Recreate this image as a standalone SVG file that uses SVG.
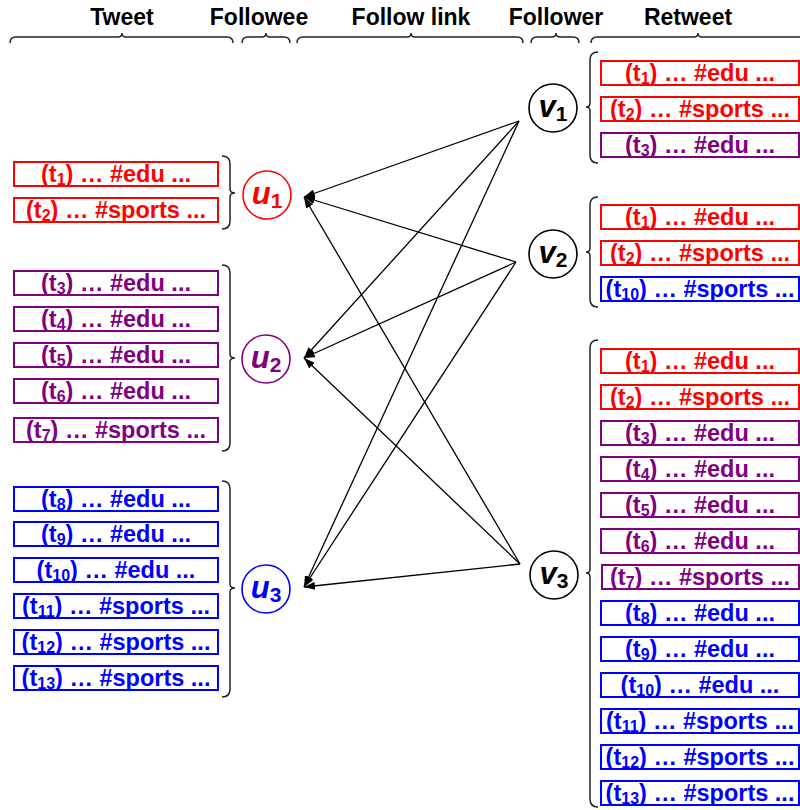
<svg xmlns="http://www.w3.org/2000/svg" width="800" height="810" viewBox="0 0 800 810">
<style>
text{font-family:"Liberation Sans",Arial,sans-serif;font-weight:bold}
.hd{font-size:23px;fill:#000;text-anchor:middle}
.tw{font-size:23.5px;text-anchor:middle}
.sb{font-size:16px}
.box{fill:#fff;stroke-width:2}
.R rect{stroke:#f00}.R text{fill:#f00}
.P rect{stroke:#800080}.P text{fill:#800080}
.B rect{stroke:#00f}.B text{fill:#00f}
.node{fill:#fff;stroke-width:1.6}
.nl{font-size:31px;font-style:italic;text-anchor:middle}
.ns{font-size:21px;font-style:normal}
.brace{fill:none;stroke:#222;stroke-width:1.5}
.edge{stroke:#000;stroke-width:1.3;fill:none;marker-end:url(#ah)}
</style>
<defs>
<marker id="ah" markerUnits="userSpaceOnUse" markerWidth="12" markerHeight="8" refX="11" refY="4" orient="auto">
<path d="M0,0 L11,4 L0,8 z" fill="#000"/>
</marker>
</defs>
<rect width="800" height="810" fill="#fff"/>
<g id="headers">
<text class="hd" x="122" y="25">Tweet</text>
<text class="hd" x="259" y="25">Followee</text>
<text class="hd" x="411" y="25">Follow link</text>
<text class="hd" x="556" y="25">Follower</text>
<text class="hd" x="688" y="25">Retweet</text>
</g>
<g id="braces">
<path class="brace" d="M10,43 Q10,37 16,37 L118,37 Q122,37 122,33 Q122,37 126,37 L227,37 Q233,37 233,43"/>
<path class="brace" d="M242,43 Q242,37 248,37 L262,37 Q266,37 266,33 Q266,37 270,37 L284,37 Q290,37 290,43"/>
<path class="brace" d="M297,43 Q297,37 303,37 L407,37 Q411,37 411,33 Q411,37 415,37 L517,37 Q523,37 523,43"/>
<path class="brace" d="M531,43 Q531,37 537,37 L552,37 Q556,37 556,33 Q556,37 560,37 L573,37 Q579,37 579,43"/>
<path class="brace" d="M591,43 Q591,37 597,37 L694,37 Q698,37 698,33 Q698,37 702,37 L812,37"/>
<path class="brace" d="M222,156 Q230,156 230,164 L230,189 Q230,193 235,193 Q230,193 230,197 L230,221 Q230,229 222,229"/>
<path class="brace" d="M222,265 Q230,265 230,273 L230,354 Q230,358 235,358 Q230,358 230,362 L230,443 Q230,451 222,451"/>
<path class="brace" d="M222,481 Q230,481 230,489 L230,584 Q230,588 235,588 Q230,588 230,592 L230,689 Q230,697 222,697"/>
<path class="brace" d="M598,52 Q590,52 590,60 L590,103 Q590,107 586,107 Q590,107 590,111 L590,155 Q590,163 598,163"/>
<path class="brace" d="M598,197 Q590,197 590,205 L590,248 Q590,252 586,252 Q590,252 590,256 L590,299 Q590,307 598,307"/>
<path class="brace" d="M598,340 Q590,340 590,348 L590,569 Q590,573 586,573 Q590,573 590,577 L590,799 Q590,807 598,807"/>
</g>
<g id="tweets-u1" class="R">
<rect class="box" x="14" y="162" width="204" height="24"/><text class="tw" x="116" y="182">(t<tspan class="sb" dy="3">1</tspan><tspan dy="-3">) … #edu ...</tspan></text>
<rect class="box" x="14" y="198" width="204" height="24"/><text class="tw" x="116" y="218">(t<tspan class="sb" dy="3">2</tspan><tspan dy="-3">) … #sports ...</tspan></text>
</g>
<g id="tweets-u2" class="P">
<rect class="box" x="14" y="271" width="204" height="24"/><text class="tw" x="116" y="291">(t<tspan class="sb" dy="3">3</tspan><tspan dy="-3">) … #edu ...</tspan></text>
<rect class="box" x="14" y="307" width="204" height="24"/><text class="tw" x="116" y="327">(t<tspan class="sb" dy="3">4</tspan><tspan dy="-3">) … #edu ...</tspan></text>
<rect class="box" x="14" y="343" width="204" height="24"/><text class="tw" x="116" y="363">(t<tspan class="sb" dy="3">5</tspan><tspan dy="-3">) … #edu ...</tspan></text>
<rect class="box" x="14" y="379" width="204" height="24"/><text class="tw" x="116" y="399">(t<tspan class="sb" dy="3">6</tspan><tspan dy="-3">) … #edu ...</tspan></text>
<rect class="box" x="14" y="418" width="204" height="24"/><text class="tw" x="116" y="438">(t<tspan class="sb" dy="3">7</tspan><tspan dy="-3">) … #sports ...</tspan></text>
</g>
<g id="tweets-u3" class="B">
<rect class="box" x="14" y="487" width="204" height="24"/><text class="tw" x="116" y="507">(t<tspan class="sb" dy="3">8</tspan><tspan dy="-3">) … #edu ...</tspan></text>
<rect class="box" x="14" y="522" width="204" height="24"/><text class="tw" x="116" y="542">(t<tspan class="sb" dy="3">9</tspan><tspan dy="-3">) … #edu ...</tspan></text>
<rect class="box" x="14" y="558" width="204" height="24"/><text class="tw" x="116" y="578">(t<tspan class="sb" dy="3">10</tspan><tspan dy="-3">) … #edu ...</tspan></text>
<rect class="box" x="14" y="594" width="204" height="24"/><text class="tw" x="116" y="614">(t<tspan class="sb" dy="3">11</tspan><tspan dy="-3">) … #sports ...</tspan></text>
<rect class="box" x="14" y="630" width="204" height="24"/><text class="tw" x="116" y="650">(t<tspan class="sb" dy="3">12</tspan><tspan dy="-3">) … #sports ...</tspan></text>
<rect class="box" x="14" y="666" width="204" height="24"/><text class="tw" x="116" y="686">(t<tspan class="sb" dy="3">13</tspan><tspan dy="-3">) … #sports ...</tspan></text>
</g>
<g id="retweets-v1">
<g class="R"><rect class="box" x="601" y="61" width="198" height="24"/><text class="tw" x="700" y="81">(t<tspan class="sb" dy="3">1</tspan><tspan dy="-3">) … #edu ...</tspan></text>
<rect class="box" x="601" y="97" width="198" height="24"/><text class="tw" x="700" y="117">(t<tspan class="sb" dy="3">2</tspan><tspan dy="-3">) … #sports ...</tspan></text></g>
<g class="P"><rect class="box" x="601" y="133" width="198" height="24"/><text class="tw" x="700" y="153">(t<tspan class="sb" dy="3">3</tspan><tspan dy="-3">) … #edu ...</tspan></text></g>
</g>
<g id="retweets-v2">
<g class="R"><rect class="box" x="601" y="205" width="198" height="24"/><text class="tw" x="700" y="225">(t<tspan class="sb" dy="3">1</tspan><tspan dy="-3">) … #edu ...</tspan></text>
<rect class="box" x="601" y="241" width="198" height="24"/><text class="tw" x="700" y="261">(t<tspan class="sb" dy="3">2</tspan><tspan dy="-3">) … #sports ...</tspan></text></g>
<g class="B"><rect class="box" x="601" y="277" width="198" height="24"/><text class="tw" x="700" y="297">(t<tspan class="sb" dy="3">10</tspan><tspan dy="-3">) … #sports ...</tspan></text></g>
</g>
<g id="retweets-v3">
<g class="R"><rect class="box" x="601" y="349" width="198" height="24"/><text class="tw" x="700" y="369">(t<tspan class="sb" dy="3">1</tspan><tspan dy="-3">) … #edu ...</tspan></text>
<rect class="box" x="601" y="385" width="198" height="24"/><text class="tw" x="700" y="405">(t<tspan class="sb" dy="3">2</tspan><tspan dy="-3">) … #sports ...</tspan></text></g>
<g class="P"><rect class="box" x="601" y="421" width="198" height="24"/><text class="tw" x="700" y="441">(t<tspan class="sb" dy="3">3</tspan><tspan dy="-3">) … #edu ...</tspan></text>
<rect class="box" x="601" y="457" width="198" height="24"/><text class="tw" x="700" y="477">(t<tspan class="sb" dy="3">4</tspan><tspan dy="-3">) … #edu ...</tspan></text>
<rect class="box" x="601" y="493" width="198" height="24"/><text class="tw" x="700" y="513">(t<tspan class="sb" dy="3">5</tspan><tspan dy="-3">) … #edu ...</tspan></text>
<rect class="box" x="601" y="529" width="198" height="24"/><text class="tw" x="700" y="549">(t<tspan class="sb" dy="3">6</tspan><tspan dy="-3">) … #edu ...</tspan></text>
<rect class="box" x="602" y="565" width="197" height="24"/><text class="tw" x="700" y="585">(t<tspan class="sb" dy="3">7</tspan><tspan dy="-3">) … #sports ...</tspan></text></g>
<g class="B"><rect class="box" x="601" y="601" width="198" height="24"/><text class="tw" x="700" y="621">(t<tspan class="sb" dy="3">8</tspan><tspan dy="-3">) … #edu ...</tspan></text>
<rect class="box" x="601" y="637" width="198" height="24"/><text class="tw" x="700" y="657">(t<tspan class="sb" dy="3">9</tspan><tspan dy="-3">) … #edu ...</tspan></text>
<rect class="box" x="601" y="673" width="198" height="24"/><text class="tw" x="700" y="693">(t<tspan class="sb" dy="3">10</tspan><tspan dy="-3">) … #edu ...</tspan></text>
<rect class="box" x="601" y="709" width="198" height="24"/><text class="tw" x="700" y="729">(t<tspan class="sb" dy="3">11</tspan><tspan dy="-3">) … #sports ...</tspan></text>
<rect class="box" x="601" y="745" width="198" height="24"/><text class="tw" x="700" y="765">(t<tspan class="sb" dy="3">12</tspan><tspan dy="-3">) … #sports ...</tspan></text>
<rect class="box" x="601" y="781" width="198" height="24"/><text class="tw" x="700" y="801">(t<tspan class="sb" dy="3">13</tspan><tspan dy="-3">) … #sports ...</tspan></text></g>
</g>
<g id="connectors">
<line class="edge" x1="519" y1="121" x2="304" y2="197"/>
<line class="edge" x1="519" y1="121" x2="304" y2="358"/>
<line class="edge" x1="519" y1="121" x2="304" y2="587"/>
<line class="edge" x1="516" y1="262" x2="304" y2="197"/>
<line class="edge" x1="516" y1="262" x2="304" y2="358"/>
<line class="edge" x1="516" y1="262" x2="304" y2="587"/>
<line class="edge" x1="520" y1="564" x2="304" y2="197"/>
<line class="edge" x1="520" y1="564" x2="304" y2="358"/>
<line class="edge" x1="520" y1="564" x2="304" y2="587"/>
</g>
<g id="u1"><circle class="node" cx="267" cy="195" r="24" stroke="#f00"/><text class="nl" x="267" y="204" fill="#f00">u<tspan class="ns" dy="4">1</tspan></text></g>
<g id="u2"><circle class="node" cx="266" cy="359" r="24" stroke="#800080"/><text class="nl" x="266" y="368" fill="#800080">u<tspan class="ns" dy="4">2</tspan></text></g>
<g id="u3"><circle class="node" cx="266" cy="589" r="24" stroke="#00f"/><text class="nl" x="266" y="598" fill="#00f">u<tspan class="ns" dy="4">3</tspan></text></g>
<g id="v1"><circle class="node" cx="553" cy="108" r="24" stroke="#000"/><text class="nl" x="553" y="117" fill="#000">v<tspan class="ns" dy="4">1</tspan></text></g>
<g id="v2"><circle class="node" cx="553" cy="254" r="24" stroke="#000"/><text class="nl" x="553" y="263" fill="#000">v<tspan class="ns" dy="4">2</tspan></text></g>
<g id="v3"><circle class="node" cx="554" cy="575" r="24" stroke="#000"/><text class="nl" x="554" y="584" fill="#000">v<tspan class="ns" dy="4">3</tspan></text></g>
</svg>
